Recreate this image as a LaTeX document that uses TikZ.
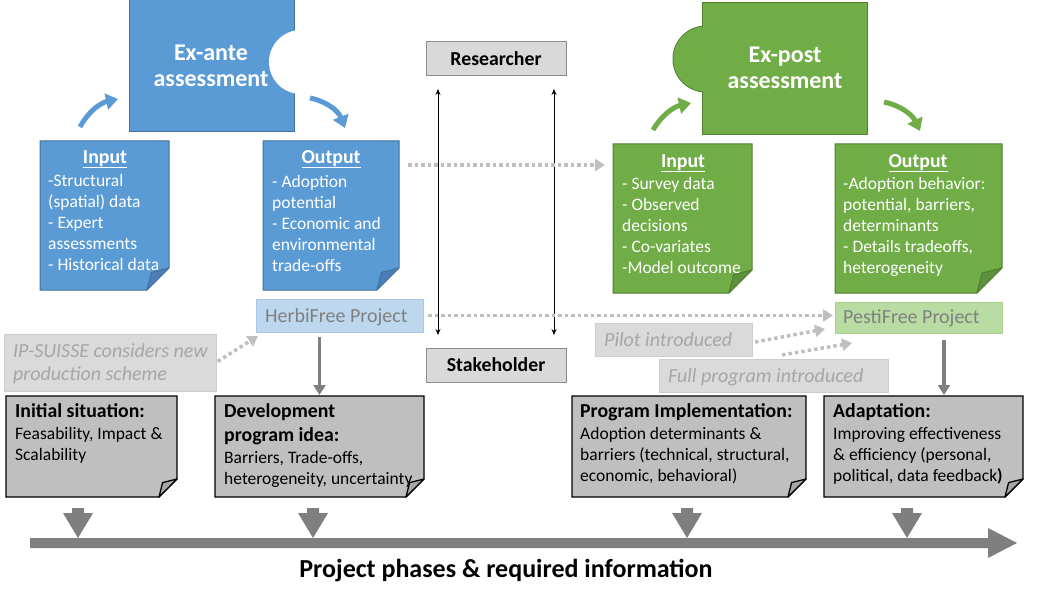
\documentclass[tikz,border=0pt]{standalone}
\usepackage{fontspec}
\setmainfont{Carlito}
\usetikzlibrary{arrows.meta}
\definecolor{blueF}{HTML}{5B9BD5}
\definecolor{blueD}{HTML}{41719C}
\definecolor{blueFold}{HTML}{4A7EBB}
\definecolor{greenF}{HTML}{70AD47}
\definecolor{greenD}{HTML}{507E32}
\definecolor{greenFold}{HTML}{5E913B}
\definecolor{grayBox}{HTML}{BFBFBF}
\definecolor{grayFold}{HTML}{A6A6A6}
\definecolor{roleF}{HTML}{D9D9D9}
\definecolor{roleD}{HTML}{8C8C8C}
\definecolor{noteF}{HTML}{DADADA}
\definecolor{noteD}{HTML}{CDCDCD}
\definecolor{noteT}{HTML}{A6A6A6}
\definecolor{herbiF}{HTML}{BDD7EE}
\definecolor{herbiD}{HTML}{A8C6E5}
\definecolor{pestiF}{HTML}{B9DCA3}
\definecolor{pestiD}{HTML}{A9D18E}
\definecolor{projT}{HTML}{808080}
\definecolor{dotGray}{HTML}{BFBFBF}
\definecolor{midGray}{HTML}{7F7F7F}
\newcommand\bodyfont{\fontsize{17.5}{21}\selectfont}
\newcommand\headfont{\bfseries\fontsize{19.8}{24}\selectfont}
\newcommand\projfont{\fontsize{20}{23}\selectfont}
\newcommand\bigfont{\bfseries\fontsize{24}{26}\selectfont}
% #1 node, #2 fold size, #3 fill, #4 draw, #5 fold fill, #6 line width
\newcommand\foldframe[6]{%
  \path[fill=#3,draw=#4,line width=#6,line join=miter]
    (#1.north west) -- (#1.north east) -- ([yshift=#2pt]#1.south east)
    -- ([xshift=-#2pt]#1.south east) -- (#1.south west) -- cycle;
  \path[fill=#5,draw=#4,line width=#6,line join=round]
    ([xshift=-#2pt]#1.south east) -- ([yshift=#2pt]#1.south east)
    -- ([xshift={-0.8*#2pt},yshift={0.8*#2pt}]#1.south east) -- cycle;
}
\newcommand\downblock[1]{%
  \fill[midGray] (#1-6,508) -- (#1+6,508) -- (#1+6,513) -- (#1+15,513)
    -- (#1,538) -- (#1-15,513) -- (#1-6,513) -- cycle;
}
% NOTE: for multi-line nodes the base anchor is the baseline of the LAST line
\tikzset{
  plain/.style={rectangle, inner sep=0pt, outer sep=0pt},
  bodytxt/.style={anchor=base west, inner sep=0pt, align=left, font=\bodyfont, text=white},
  headtxt/.style={anchor=base, inner sep=0pt, font=\headfont, text=white},
  grayhead/.style={anchor=base west, inner sep=0pt, align=left, font=\headfont, text=black},
  graybody/.style={anchor=base west, inner sep=0pt, align=left, font=\bodyfont, text=black},
  bigtxt/.style={anchor=base, inner sep=0pt, align=center, font=\bigfont, text=white},
  projtxt/.style={anchor=base west, inner sep=0pt, align=left, font=\projfont, text=projT},
  notetxt/.style={anchor=base west, inner sep=0pt, align=left, font=\itshape\projfont, text=noteT},
  rolebox/.style={plain, fill=roleF, draw=roleD, line width=1pt, minimum width=140pt,
    minimum height=34pt, font=\headfont},
  notebox/.style={plain, fill=noteF, draw=noteD, line width=1pt},
  curvearrow/.style={line width=5pt, -{Triangle[length=12pt,width=16pt]}},
  dotarrow/.style={draw=dotGray, line width=3.5pt, dash pattern=on 3.5pt off 3pt,
    -{Triangle[length=10pt,width=12pt]}},
  grayarrow/.style={draw=midGray, line width=3.5pt, -{Triangle[length=10pt,width=12pt]}},
  twoway/.style={draw=black, line width=0.8pt,
    {Stealth[length=6pt,width=5pt]}-{Stealth[length=6pt,width=5pt]}},
}
\begin{document}
\begin{tikzpicture}[x=1pt,y=-1pt]
\useasboundingbox (0,0) rectangle (1049,599);

% ---------- Ex-ante (blue) ----------
\node[plain, fill=blueF, draw=blueD, line width=1pt, minimum width=165pt, minimum height=132pt] (exante) at (211.5,66) {};
\fill[white] (301,62) circle[radius=32];
\node[bigtxt] (exantetxt) at (211,87) {Ex-ante\\assessment};

\node[plain, minimum width=129pt, minimum height=149pt] (bin) at (104.5,215.5) {};
\foldframe{bin}{22}{blueF}{blueD}{blueFold}{1pt}
\node[headtxt] (binh) at (105,163) {\underline{Input}};
\node[bodytxt] (bint) at (48,270) {-Structural\\(spatial) data\\- Expert\\assessments\\- Historical data};

\node[plain, minimum width=136pt, minimum height=149pt] (bout) at (331,215.5) {};
\foldframe{bout}{22}{blueF}{blueD}{blueFold}{1pt}
\node[headtxt] (bouth) at (331,163) {\underline{Output}};
\node[bodytxt] (boutt) at (272,271) {- Adoption\\potential\\- Economic and\\environmental\\trade-offs};

\draw[curvearrow, blueF] ([xshift=-24.5pt,yshift=14pt]bin.north) .. controls +(8,-15) and +(-18,4) .. ([xshift=-11pt,yshift=33pt]exante.south west);
\draw[curvearrow, blueF] ([xshift=16pt,yshift=34pt]exante.south east) .. controls +(15,3) and +(-7,-18) .. ([xshift=14pt,yshift=13pt]bout.north);

% ---------- Ex-post (green) ----------
\path[fill=greenF, draw=greenD, line width=1pt] (706,59) circle[radius=33];
\node[plain, fill=greenF, draw=greenD, line width=1pt, minimum width=165pt, minimum height=132pt] (expost) at (784.5,69) {};
\fill[greenF] (706,59) circle[radius=32.5];
\node[bigtxt] (posttxt) at (785,89) {Ex-post\\assessment};

\node[plain, minimum width=139pt, minimum height=149pt] (gin) at (682.5,218.5) {};
\foldframe{gin}{23}{greenF}{greenD}{greenFold}{1pt}
\node[headtxt] (ginh) at (683,167) {\underline{Input}};
\node[bodytxt] (gint) at (622,273) {- Survey data\\- Observed\\decisions\\- Co-variates\\-Model outcome};

\node[plain, minimum width=167pt, minimum height=149pt] (gout) at (918.5,218.5) {};
\foldframe{gout}{25}{greenF}{greenD}{greenFold}{1pt}
\node[headtxt] (gouth) at (918,167) {\underline{Output}};
\node[bodytxt] (goutt) at (843,273) {-Adoption behavior:\\potential, barriers,\\determinants\\- Details tradeoffs,\\heterogeneity};

\draw[curvearrow, greenF] ([xshift=-29.5pt,yshift=14pt]gin.north) .. controls +(8,-14) and +(-18,4) .. ([xshift=-11pt,yshift=32pt]expost.south west);
\draw[curvearrow, greenF] ([xshift=17pt,yshift=33pt]expost.south east) .. controls +(15,3) and +(-8,-17) .. ([xshift=1.5pt,yshift=13pt]gout.north);

% ---------- Researcher / Stakeholder ----------
\node[rolebox] (res) at (496,59) {Researcher};
\node[rolebox] (stake) at (496,365) {Stakeholder};
\draw[twoway, shorten <=13pt, shorten >=13pt] ([xshift=12pt]res.south west) -- ([xshift=12pt]stake.north west);
\draw[twoway, shorten <=13pt, shorten >=13pt] ([xshift=-12pt]res.south east) -- ([xshift=-12pt]stake.north east);

\draw[dotarrow] ([xshift=9pt,yshift=-24pt]bout.north east) -- ([xshift=-8pt,yshift=-21pt]gin.north west);

% ---------- projects and notes ----------
\node[plain, fill=herbiF, draw=herbiD, line width=1pt, minimum width=167pt, minimum height=33pt] (herbi) at (339.5,315.5) {};
\node[projtxt] (herbit) at (265,322) {HerbiFree Project};
\node[plain, fill=pestiF, draw=pestiD, line width=1pt, minimum width=167pt, minimum height=31pt] (pesti) at (918.5,317.5) {};
\node[projtxt] (pestit) at (843,323) {PestiFree Project};

\node[notebox, minimum width=212pt, minimum height=57pt] (ip) at (110,362.5) {};
\node[notetxt] (ipt) at (13,380) {IP-SUISSE considers new\\production scheme};
\node[notebox, minimum width=157pt, minimum height=33pt] (pilot) at (673.5,339.5) {};
\node[notetxt] (pilott) at (604,346) {Pilot introduced};
\node[notebox, minimum width=229pt, minimum height=33pt] (full) at (773.5,375.5) {};
\node[notetxt] (fullt) at (668,382) {Full program introduced};

\draw[dotarrow, shorten <=5pt, shorten >=2pt] (herbi.east) -- (herbi.east -| pesti.west);
\draw[dotarrow, shorten <=2pt] (ip.east) -- ([xshift=2pt,yshift=-4pt]herbi.south west);
\draw[dotarrow] ([xshift=3pt,yshift=-2.5pt]pilot.east) -- ([xshift=-10pt,yshift=4pt]pesti.south west);
\draw[dotarrow] ([xshift=8.5pt,yshift=4pt]full.north) -- ([xshift=17pt,yshift=-10pt]pesti.south west);

% ---------- phase boxes ----------
\node[plain, minimum width=171pt, minimum height=101pt] (init) at (91.5,446.5) {};
\foldframe{init}{18}{grayBox}{black}{grayFold}{1.3pt}
\node[grayhead] (inith) at (15,417) {Initial situation:};
\node[graybody] (initt) at (15,460) {Feasability, Impact \&\\Scalability};

\node[plain, minimum width=209pt, minimum height=101pt] (dev) at (319.5,446.5) {};
\foldframe{dev}{18}{grayBox}{black}{grayFold}{1.3pt}
\node[grayhead] (devh) at (224,441) {Development\\program idea:};
\node[graybody] (devt) at (224,484) {Barriers, Trade-offs,\\heterogeneity, uncertainty};

\node[plain, minimum width=234pt, minimum height=101pt] (prog) at (689,446.5) {};
\foldframe{prog}{18}{grayBox}{black}{grayFold}{1.3pt}
\node[grayhead] (progh) at (580,417) {Program Implementation:};
\node[graybody] (progt) at (580,481) {Adoption determinants \&\\barriers (technical, structural,\\economic, behavioral)};

\node[plain, minimum width=199pt, minimum height=101pt] (adapt) at (923.5,446.5) {};
\foldframe{adapt}{18}{grayBox}{black}{grayFold}{1.3pt}
\node[grayhead] (adapth) at (833,417) {Adaptation:};
\node[graybody] (adaptt) at (833,481) {Improving effectiveness\\\& efficiency (personal,\\political, data feedback\textbf{)}};

\draw[grayarrow, shorten <=5pt, shorten >=1pt] (dev.north |- herbi.south) -- (dev.north);
\draw[grayarrow, shorten <=7pt, shorten >=1pt] ([xshift=25.5pt]pesti.south) -- ([xshift=25.5pt]pesti.south |- adapt.north);

% ---------- timeline ----------
\downblock{78}
\downblock{313}
\downblock{687}
\downblock{907}
\fill[midGray] (30,538) -- (988,538) -- (988,528) -- (1017,543) -- (988,558) -- (988,548) -- (30,548) -- cycle;
\node[anchor=base, inner sep=0pt, font=\bfseries\fontsize{26}{30}\selectfont] (title) at (506,577) {Project phases \& required information};
\end{tikzpicture}
\end{document}
